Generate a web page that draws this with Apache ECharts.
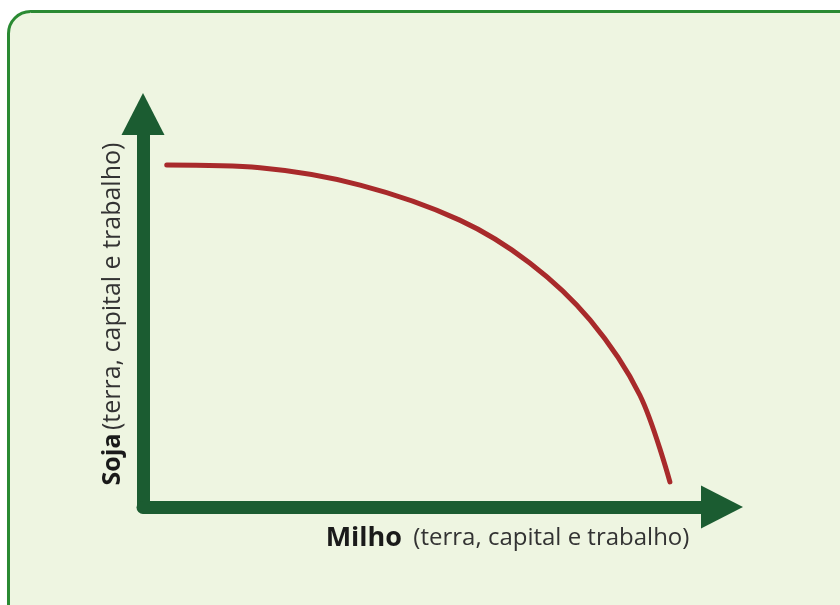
<!DOCTYPE html>
<html>
<head>
<meta charset="utf-8">
<script src="https://cdn.jsdelivr.net/npm/echarts@6/dist/echarts.min.js"></script>
<style>
  html, body { margin: 0; padding: 0; background: #ffffff; }
  #chart { width: 840px; height: 605px; }
</style>
</head>
<body>
<div id="chart"></div>
<script>
// curva de possibilidades de produção (escala 0-100)
const milho = [4.1, 20.2, 37.5, 54.7, 66.8, 77.2, 85.8, 91.0];
const soja = [87.0, 86.3, 81.9, 73.0, 62.1, 47.6, 28.5, 6.4];
const xName = ['Milho', '(terra, capital e trabalho)'];
const yName = ['Soja', '(terra, capital e trabalho)'];

const axisGreen = '#1b5c31';
const curveRed = '#a82a2b';

const chart = echarts.init(document.getElementById('chart'));

const axisLine = {
  show: true,
  onZero: false,
  symbol: ['none', 'triangle'],
  symbolSize: [43, 42],
  lineStyle: { color: axisGreen, width: 13, cap: 'round' }
};

chart.setOption({
  backgroundColor: '#ffffff',
  animation: false,
  graphic: [{
    type: 'rect',
    shape: { x: 8.5, y: 11.5, width: 900, height: 700, r: 22 },
    style: { fill: '#eef5e1', stroke: '#2a8a33', lineWidth: 3 },
    z: -10
  }],
  grid: { left: 143, right: 118, top: 114, bottom: 98 },
  xAxis: {
    type: 'value',
    min: 0,
    max: 100,
    axisLine: axisLine,
    axisTick: { show: false },
    axisLabel: { show: false },
    splitLine: { show: false },
    name: '{b|' + xName[0] + '} {n|' + xName[1] + '}',
    nameLocation: 'middle',
    nameGap: 18,
    nameTextStyle: {
      padding: [0, 0, 0, 150],
      verticalAlign: 'top',
      rich: {
        b: { fontFamily: 'Open Sans', fontWeight: 'bold', fontSize: 27, color: '#1a1a1a', padding: [0, 8, 0, 0] },
        n: { fontFamily: 'Open Sans', fontSize: 24, color: '#333333' }
      }
    }
  },
  yAxis: {
    type: 'value',
    min: 0,
    max: 100,
    axisLine: axisLine,
    axisTick: { show: false },
    axisLabel: { show: false },
    splitLine: { show: false },
    name: '{b|' + yName[0] + '} {n|' + yName[1] + '}',
    nameLocation: 'middle',
    nameGap: 18,
    nameTextStyle: {
      padding: [0, 7, 0, 0],
      rich: {
        b: { fontFamily: 'Open Sans', fontWeight: 'bold', fontSize: 25, color: '#1a1a1a' },
        n: { fontFamily: 'Open Sans', fontSize: 25, color: '#333333' }
      }
    }
  },
  series: [{
    type: 'line',
    data: milho.map((x, i) => [x, soja[i]]),
    smooth: 0.33,
    showSymbol: false,
    lineStyle: { color: curveRed, width: 5, cap: 'round' },
    z: 5
  }]
});
</script>
</body>
</html>
